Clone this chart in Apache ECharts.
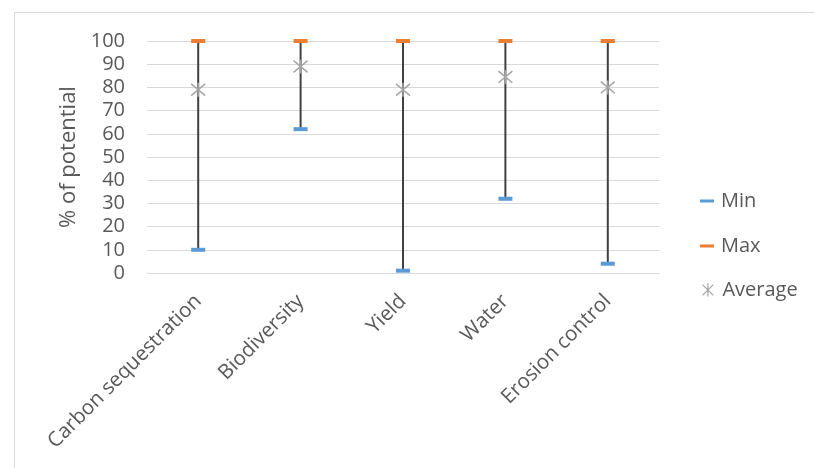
<!DOCTYPE html>
<html>
<head>
<meta charset="utf-8">
<script src="https://cdn.jsdelivr.net/npm/echarts@6/dist/echarts.min.js"></script>
<style>
  html, body { margin: 0; padding: 0; background: #ffffff; }
  #chart { width: 814px; height: 468px; }
</style>
</head>
<body>
<div id="chart"></div>
<script>
// Ecosystem service outcomes, % of potential
const categories = ['Carbon sequestration', 'Biodiversity', 'Yield', 'Water', 'Erosion control'];
const minValues = [10, 62, 1, 32, 4];
const maxValues = [100, 100, 100, 100, 100];
const avgValues = [79, 89, 79, 84.5, 80];
const yTicks = [0, 10, 20, 30, 40, 50, 60, 70, 80, 90, 100];

const FONT = '"Open Sans"';
const TEXT = '#595959';
const STAR = 'path://M0,0L10,10M10,0L0,10M5,-1L5,11';

const chart = echarts.init(document.getElementById('chart'), null, { renderer: 'canvas' });

chart.setOption({
  animation: false,
  backgroundColor: '#ffffff',
  textStyle: { fontFamily: FONT, color: TEXT },
  graphic: [{
    type: 'rect',
    silent: true,
    z: -10,
    shape: { x: 14.5, y: 12.5, width: 900, height: 600 },
    style: { fill: 'none', stroke: '#d9d9d9', lineWidth: 1 }
  }],
  grid: { left: 147, right: 155, top: 41, bottom: 195, containLabel: false },
  legend: [{
    orient: 'vertical',
    left: 700,
    top: 190,
    padding: 0,
    itemWidth: 14,
    itemHeight: 3,
    itemGap: 23,
    icon: 'rect',
    selectedMode: false,
    data: ['Min', 'Max'],
    textStyle: { fontFamily: FONT, fontSize: 20, color: TEXT, lineHeight: 22, padding: [0, 0, 0, 2] }
  }, {
    orient: 'vertical',
    left: 700,
    top: 279,
    padding: 0,
    itemWidth: 13,
    itemHeight: 13,
    selectedMode: false,
    data: [{ name: 'Average', icon: STAR, itemStyle: { color: 'none', borderColor: '#a5a5a5', borderWidth: 1.2 } }],
    textStyle: { fontFamily: FONT, fontSize: 20, color: TEXT, lineHeight: 22, padding: [0, 0, 0, 3] }
  }],
  xAxis: {
    type: 'category',
    data: categories,
    boundaryGap: true,
    axisLine: { show: true, lineStyle: { color: '#d9d9d9', width: 1 } },
    axisTick: { show: false },
    axisLabel: {
      rotate: 45,
      interval: 0,
      margin: 25,
      fontFamily: FONT,
      fontSize: 20.5,
      color: TEXT
    }
  },
  yAxis: {
    type: 'value',
    min: yTicks[0],
    max: yTicks[yTicks.length - 1],
    interval: yTicks[1] - yTicks[0],
    name: '% of potential',
    nameLocation: 'middle',
    nameGap: 66,
    nameTextStyle: { fontFamily: FONT, fontSize: 22, color: TEXT },
    axisLine: { show: false },
    axisTick: { show: false },
    axisLabel: { margin: 22, fontFamily: FONT, fontSize: 20, color: TEXT },
    splitLine: { lineStyle: { color: '#d9d9d9', width: 1 } }
  },
  series: [{
    // high-low lines joining the min and max of each category
    name: 'range',
    type: 'custom',
    z: 1,
    silent: true,
    data: categories.map((c, i) => [i, minValues[i], maxValues[i]]),
    encode: { x: 0, y: [1, 2] },
    renderItem: function (params, api) {
      const lo = api.coord([api.value(0), api.value(1)]);
      const hi = api.coord([api.value(0), api.value(2)]);
      return {
        type: 'line',
        shape: { x1: lo[0], y1: lo[1], x2: hi[0], y2: hi[1] },
        style: { stroke: '#404040', lineWidth: 2 }
      };
    }
  }, {
    name: 'Min',
    type: 'scatter',
    z: 3,
    data: minValues,
    symbol: 'rect',
    symbolSize: [14, 4],
    itemStyle: { color: '#5b9bd5', opacity: 1 }
  }, {
    name: 'Max',
    type: 'scatter',
    z: 3,
    data: maxValues,
    symbol: 'rect',
    symbolSize: [14, 4],
    itemStyle: { color: '#ed7d31', opacity: 1 }
  }, {
    name: 'Average',
    type: 'scatter',
    z: 4,
    data: avgValues,
    symbol: STAR,
    symbolSize: 14,
    itemStyle: { color: 'none', borderColor: '#a5a5a5', borderWidth: 1.5, opacity: 1 }
  }]
});
</script>
</body>
</html>
